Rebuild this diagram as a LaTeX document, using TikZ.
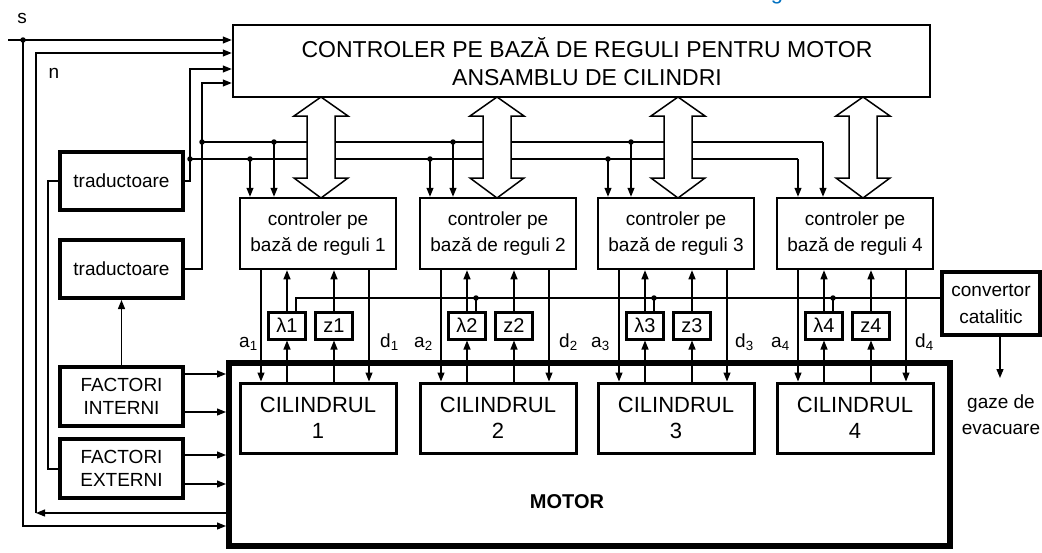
\documentclass[tikz,border=0pt]{standalone}
\usepackage{fontspec}
\setmainfont{Liberation Sans}
\usetikzlibrary{arrows.meta}
\definecolor{figblue}{RGB}{0,112,192}
\begin{document}
\begin{tikzpicture}[x=1pt,y=-1pt,
  every node/.style={font=\fontsize{19}{26}\selectfont, inner sep=0pt},
  ln/.style={line width=1.2pt},
  arr/.style={ln,-{Triangle[length=9pt,width=7pt]}},
  dotn/.style={circle,fill,inner sep=0pt,minimum size=5.5pt},
  ctrl/.style={draw,line width=2.5pt,minimum width=156pt,minimum height=71pt,align=center,fill=white},
  cylb/.style={draw,line width=3pt,minimum width=156pt,minimum height=70pt,align=center,font=\fontsize{22}{26}\selectfont},
  sbox/.style={draw,line width=3pt,minimum width=37pt,minimum height=27pt,fill=white,font=\fontsize{20}{24}\selectfont},
  tbox/.style={draw,line width=4pt,minimum width=123pt,minimum height=58pt,align=center,font=\fontsize{19}{23}\selectfont},
  dbl/.style={draw,fill=white,line width=1.5pt,line join=miter}
]
\useasboundingbox (0,0) rectangle (1042,552);

% fragment of blue caption at the top edge
\node[anchor=base,text=figblue,font=\fontsize{22}{26}\selectfont] (capg) at (777,-1) {g};

% main boxes
\node[draw,line width=6pt,minimum width=721pt,minimum height=183pt] (motor) at (589.5,454.5) {};
\node[font=\bfseries\fontsize{20}{24}\selectfont] (mt) at (567,502) {MOTOR};
\node[draw,line width=2.5pt,minimum width=697pt,minimum height=72pt] (top) at (581.5,61) {};
\node[font=\fontsize{23}{28}\selectfont,align=center] (ttl) at (587,62) {CONTROLER PE BAZĂ DE REGULI PENTRU MOTOR\\ANSAMBLU DE CILINDRI};

\node[tbox] (t1) at (121.5,181) {traductoare};
\node[tbox] (t2) at (121.5,269) {traductoare};
\node[tbox,minimum height=59pt] (fi) at (121.5,396.5) {FACTORI\\INTERNI};
\node[tbox,minimum height=59pt] (fe) at (121.5,468.5) {FACTORI\\EXTERNI};

\node[draw,line width=4pt,minimum width=98pt,minimum height=63pt,align=center,font=\fontsize{19}{27}\selectfont] (cv) at (991,303.5) {convertor\\catalitic};
\coordinate (gz) at (1000,378);
\draw[arr] (cv.south -| gz) -- (gz);
\node[align=center] (gaze) at (1001,415) {gaze de\\evacuare};

% left signals
\node (slab) at (22,18) {s};
\node (nlab) at (54,73) {n};
\coordinate (s0) at (8,40);
\coordinate (sd) at (23,40);
\coordinate (sb) at (23,526);
\draw[arr] (s0) -- (s0 -| top.west);
\draw[arr] (sd) -- (sb) -- (sb -| motor.west);
\node[dotn] (sdot) at (sd) {};
\coordinate (n0) at (36,53);
\coordinate (nb) at (36,513);
\draw[arr] (nb -| motor.west) -- (nb);
\draw[arr] (nb) -- (n0) -- (n0 -| top.west);
\coordinate (ex) at (48,469);
\draw[ln] (fe.west |- ex) -- (ex) |- (t1.west);
\draw[arr] (fi.north) -- (t2.south);
\coordinate (fi1) at (190,374);
\coordinate (fi2) at (190,412);
\coordinate (fe1) at (190,455);
\coordinate (fe2) at (190,484);
\foreach \c in {fi1,fi2}{\draw[arr] (fi.east |- \c) -- (motor.west |- \c);}
\foreach \c in {fe1,fe2}{\draw[arr] (fe.east |- \c) -- (motor.west |- \c);}

% traductoare outputs and buses
\coordinate (v1) at (190,69);
\coordinate (v2) at (202,83);
\draw[arr] (t1.east) -| (v1) -- (v1 -| top.west);
\draw[arr] (t2.east) -| (v2) -- (v2 -| top.west);
\coordinate (b1) at (190,159);
\coordinate (b2) at (202,142);
\node[dotn] (b1d) at (b1) {};
\node[dotn] (b2d) at (b2) {};

% columns
\foreach \i/\xx/\ta/\tb/\ax/\dx in {1/240/250/274/239/380, 2/420/430/453/414/559, 3/598/608/631/591/735, 4/777/798/823/771/915}{
  \node[ctrl] (c\i) at (\xx+78,233.5) {controler pe\\bază de reguli \i};
  \node[cylb] (cy\i) at (\xx+78,418) {CILINDRUL\\\i};
  \node[sbox] (l\i) at (\xx+47,325.5) {λ\i};
  \node[sbox] (z\i) at (\xx+94,325.5) {z\i};
  \coordinate (p\i) at (\ta,159);
  \coordinate (q\i) at (\tb,142);
  \coordinate (a\i) at (\xx+21,300);
  \coordinate (d\i) at (\xx+129,300);
  \coordinate (k\i) at (\xx+56,298);
  \draw[arr] (p\i) -- (p\i |- c\i.north);
  \draw[arr] (q\i) -- (q\i |- c\i.north);
  \draw[arr] (a\i |- c\i.south) -- (a\i |- cy\i.north);
  \draw[arr] (d\i |- c\i.south) -- (d\i |- cy\i.north);
  \draw[arr] (l\i |- cy\i.north) -- (l\i.south);
  \draw[arr] (l\i.north) -- (l\i |- c\i.south);
  \draw[arr] (z\i |- cy\i.north) -- (z\i.south);
  \draw[arr] (z\i.north) -- (z\i |- c\i.south);
  \node[anchor=base west] (la\i) at (\ax,347) {a\textsubscript{\i}};
  \node[anchor=base west] (ld\i) at (\dx,347) {d\textsubscript{\i}};
}
\draw[ln] (b1) -- (p4);
\draw[ln] (b2) -- (q4);
\foreach \i in {1,2,3}{
  \node[dotn] at (p\i) {};
  \node[dotn] at (q\i) {};
}

% catalytic converter signal line
\draw[ln] (cv.west |- k1) -- (k1) -- (k1 |- l1.north);
\foreach \i in {2,3,4}{
  \draw[ln] (k\i) -- (k\i |- l\i.north);
  \node[dotn] at (k\i) {};
}

% double arrows between main controller and local controllers
\foreach \cx in {321,497,678,863}{
  \draw[dbl] (\cx,97) -- ++(27,19) -- ++(-13,0) -- ++(0,62) -- ++(13,0) -- ++(-27,20)
    -- ++(-27,-20) -- ++(13,0) -- ++(0,-62) -- ++(-13,0) -- cycle;
}
\end{tikzpicture}
\end{document}
